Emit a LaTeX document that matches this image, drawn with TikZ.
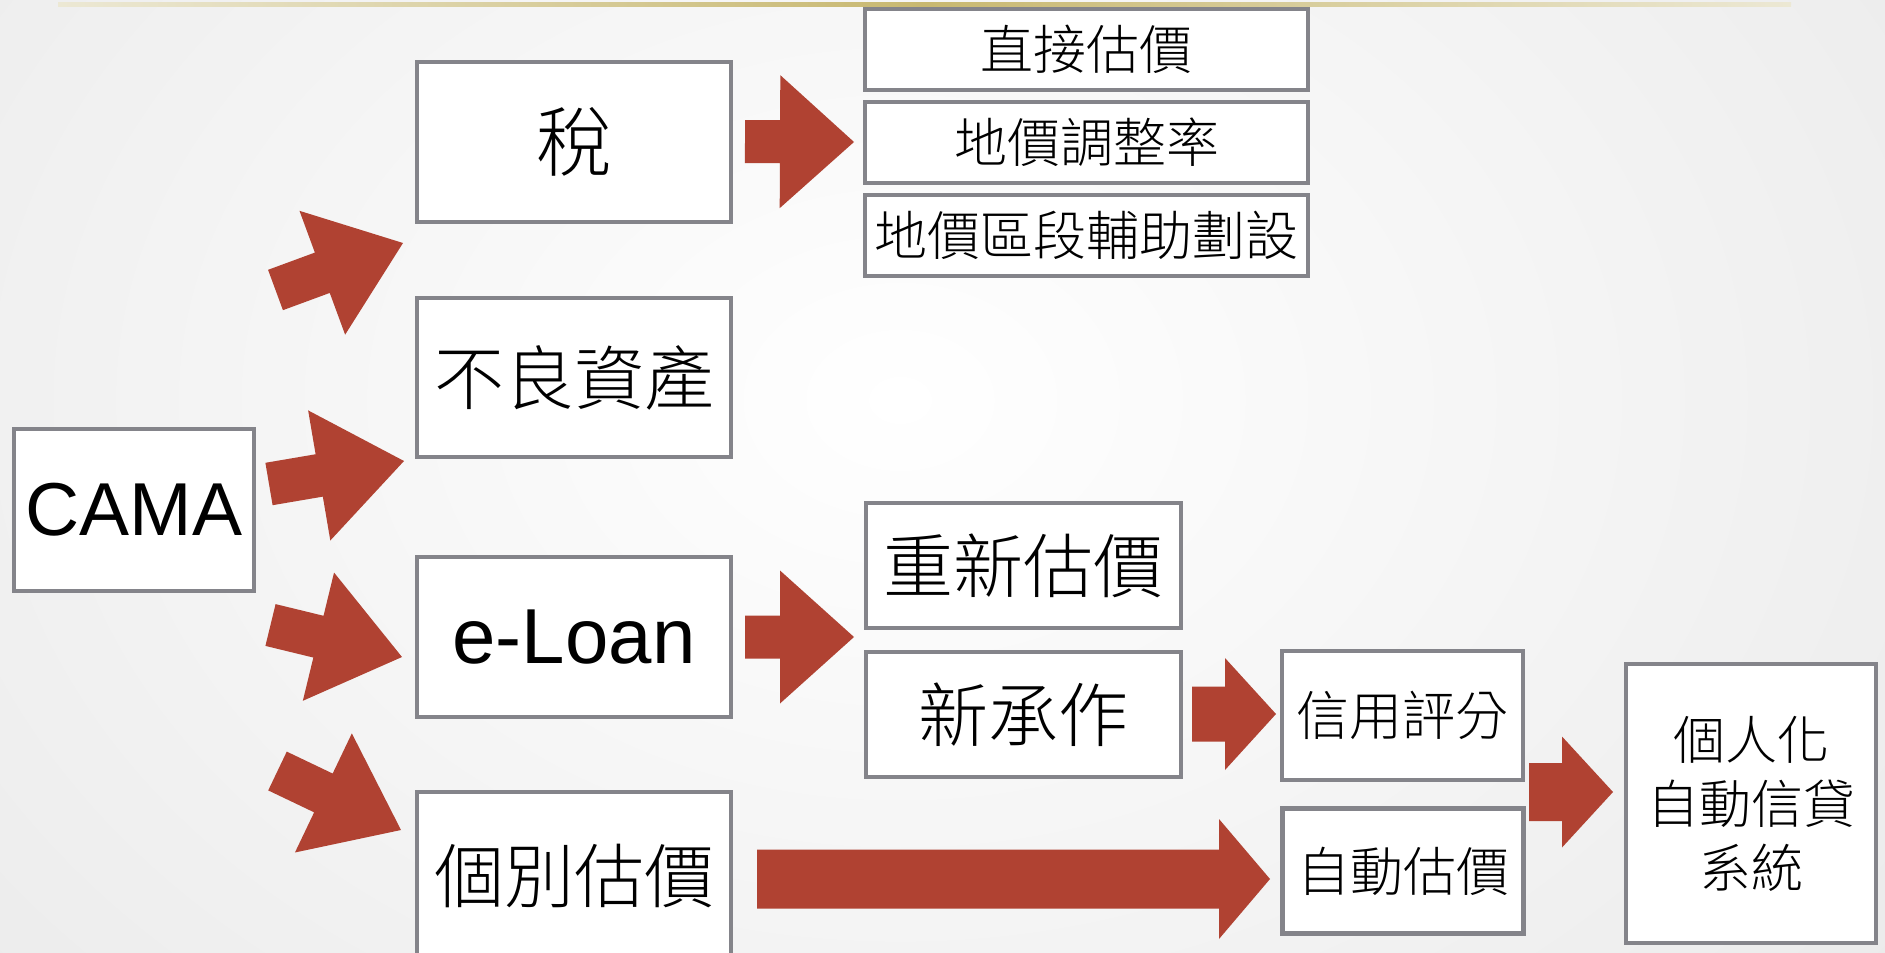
\documentclass[tikz,border=0pt]{standalone}
\usepackage{fontspec}
\setmainfont{Liberation Sans}
\newfontfamily\cjk{Noto Sans CJK TC}[UprightFont={* Light}]
\usetikzlibrary{calc}
\definecolor{boxgray}{RGB}{132,132,138}
\definecolor{arrowred}{RGB}{176,66,50}
\definecolor{goldline}{RGB}{200,184,112}
\definecolor{goldpale}{RGB}{236,232,212}
\tikzset{
  box/.style={draw=boxgray, line width=4.5pt, fill=white, inner sep=0pt, align=center, text=black},
  latinbig/.style={font=\fontsize{75}{88}\selectfont},
  cjkbig/.style={font=\cjk\fontsize{70}{84}\selectfont},
  cjkmid/.style={font=\cjk\fontsize{53}{64}\selectfont},
  arrowfill/.style={fill=arrowred, draw=none}
}
% tail, tip, shaft half width, head half width, head length
\newcommand{\blockarrow}[5]{%
  \coordinate (bahead) at ($(#2)!#5!(#1)$);
  \fill[arrowfill] ($(#1)!#3!90:(#2)$) -- ($(bahead)!#3!-90:(#1)$)
     -- ($(bahead)!#4!-90:(#1)$) -- (#2) -- ($(bahead)!#4!90:(#1)$)
     -- ($(bahead)!#3!90:(#1)$) -- ($(#1)!#3!-90:(#2)$) -- cycle;
}
\begin{document}
\begin{tikzpicture}[x=1pt,y=-1pt]
\useasboundingbox (0,0) rectangle (1885,953);
\begin{scope}
  \clip (0,0) rectangle (1885,953);
  \shade[inner color=white, outer color=black!10] (-700,-800) rectangle (2500,1600);
\end{scope}
\shade[left color=goldpale, right color=goldpale, middle color=goldline] (58,2) rectangle (1791,6);

% boxes
\node[box, latinbig, minimum width=240pt, minimum height=162pt] (cama) at (134,510) {CAMA};
\node[box, font=\cjk\fontsize{76}{90}\selectfont, minimum width=314pt, minimum height=160pt] (tax) at (574,142) {稅};
\node[box, cjkbig, minimum width=314pt, minimum height=159pt] (npl) at (574,377.5) {不良資產};
\node[box, font=\fontsize{78}{90}\selectfont, minimum width=314pt, minimum height=160pt] (eloan) at (574,637) {e-Loan};
\node[box, cjkbig, minimum width=314pt, minimum height=168pt] (indiv) at (574,876) {個別估價};

\node[box, cjkmid, minimum width=443pt, minimum height=81pt] (direct) at (1086.5,49.5) {直接估價};
\node[box, cjkmid, minimum width=443pt, minimum height=81pt] (adjust) at (1086.5,142.5) {地價調整率};
\node[box, cjkmid, minimum width=443pt, minimum height=81pt] (zone) at (1086.5,235.5) {地價區段輔助劃設};

\node[box, cjkbig, minimum width=315pt, minimum height=125pt] (reval) at (1023.5,565.5) {重新估價};
\node[box, cjkbig, minimum width=315pt, minimum height=125pt] (newloan) at (1023.5,714.5) {新承作};

\node[box, cjkmid, minimum width=241pt, minimum height=129pt] (credit) at (1402.5,715.5) {信用評分};
\node[box, cjkmid, minimum width=241pt, minimum height=125pt] (autoval) at (1403,871) {自動估價};

\node[box, font=\cjk\fontsize{52}{64}\selectfont, minimum width=250pt, minimum height=279pt] (system) at (1751,803.5) {個人化\\自動信貸\\系統};

% arrow end points
\coordinate (a1t) at (275.5,290);  \coordinate (a1p) at (403,243);
\coordinate (a2t) at (269,484);    \coordinate (a2p) at (404,461);
\coordinate (a3t) at (270.5,625);  \coordinate (a3p) at (402,657);
\coordinate (a4t) at (277.5,771);  \coordinate (a4p) at (401,830);
\coordinate (a5t) at (745,141.5);  \coordinate (a5p) at (854,142);
\coordinate (a6t) at (745,637);    \coordinate (a6p) at (854,637);
\coordinate (a7t) at (1192,714);   \coordinate (a7p) at (1276,714);
\coordinate (a8t) at (1529,792);   \coordinate (a8p) at (1613,792);
\coordinate (a9t) at (757,879);    \coordinate (a9p) at (1270,879);

\blockarrow{a1t}{a1p}{21.5pt}{66pt}{86pt}
\blockarrow{a2t}{a2p}{21.5pt}{66pt}{86pt}
\blockarrow{a3t}{a3p}{21.5pt}{66pt}{86pt}
\blockarrow{a4t}{a4p}{21.5pt}{66pt}{86pt}
\blockarrow{a5t}{a5p}{21.5pt}{66.5pt}{74pt}
\blockarrow{a6t}{a6p}{21.5pt}{66.5pt}{74pt}
\blockarrow{a7t}{a7p}{27.5pt}{56pt}{51pt}
\blockarrow{a8t}{a8p}{29pt}{55.5pt}{51pt}
\blockarrow{a9t}{a9p}{29.5pt}{60pt}{51pt}
\end{tikzpicture}
\end{document}
